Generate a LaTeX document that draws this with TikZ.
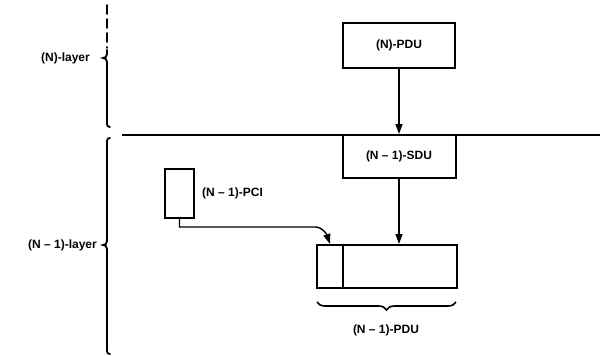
\documentclass[tikz,border=0pt]{standalone}
\usepackage{fontspec}
\setmainfont{Liberation Sans}
\usetikzlibrary{arrows.meta,decorations.pathreplacing}
\begin{document}
\begin{tikzpicture}[x=1pt,y=-1pt,
  every node/.style={font=\fontsize{12}{14}\selectfont\bfseries},
  box/.style={draw,line width=2pt,inner sep=0pt},
  lbl/.style={inner sep=0pt},
  conn/.style={line width=1.4pt,-{Triangle[length=10pt,width=7pt]}},
  bracepath/.style={line width=1.8pt,line cap=round}]
\useasboundingbox (0,0) rectangle (600,356);
% layer separator
\coordinate (sepL) at (122,135);
\coordinate (sepR) at (600,135);
\draw[line width=2pt] (sepL) -- (sepR);
% left braces
\draw[bracepath,dash pattern=on 9pt off 5pt] (107,5) -- (107,48);
\draw[bracepath] (107,50) -- (107,54) .. controls (107,57) and (105,58) .. (103,58)
  .. controls (105,58) and (107,59) .. (107,62) -- (107,124)
  .. controls (107,126) and (108,127) .. (110,127);
\draw[bracepath] (110,138) .. controls (108,138) and (107,139) .. (107,141) -- (107,241)
  .. controls (107,244) and (105,245) .. (103,245)
  .. controls (105,245) and (107,246) .. (107,249) -- (107,351)
  .. controls (107,353) and (108,354) .. (110,354);
\node[lbl,anchor=east] (nlayer) at (90,58) {(N)-layer};
\node[lbl,anchor=east] (n1layer) at (97,245) {(N – 1)-layer};
% boxes
\node[box,minimum width=112pt,minimum height=45pt] (npdu) at (399,45.5) {(N)-PDU};
\node[box,minimum width=113pt,minimum height=43pt] (sdu) at (399,156.5) {(N – 1)-SDU};
\node[box,minimum width=26pt,minimum height=43pt] (pcipart) at (330,266.5) {};
\node[box,minimum width=114pt,minimum height=43pt] (datapart) at (400,266.5) {};
\node[box,minimum width=29pt,minimum height=49pt] (pci) at (179.5,193.5) {};
\node[lbl,anchor=west] (pcilbl) at (202,193) {(N – 1)-PCI};
% connectors
\draw[conn] (npdu.south) -- (sdu.north);
\draw[conn] (sdu.south) -- (sdu.south |- datapart.north);
\coordinate (bend) at (315,227);
\draw[conn] (pci.south) |- (bend) .. controls (323,227) and (327,235) .. (pcipart.north);
% PDU brace
\draw[line width=1.6pt,decorate,decoration={brace,mirror,amplitude=8pt}]
  (317,302) -- (456,302);
\node[lbl] (pdulbl) at (386,330) {(N – 1)-PDU};
\end{tikzpicture}
\end{document}
